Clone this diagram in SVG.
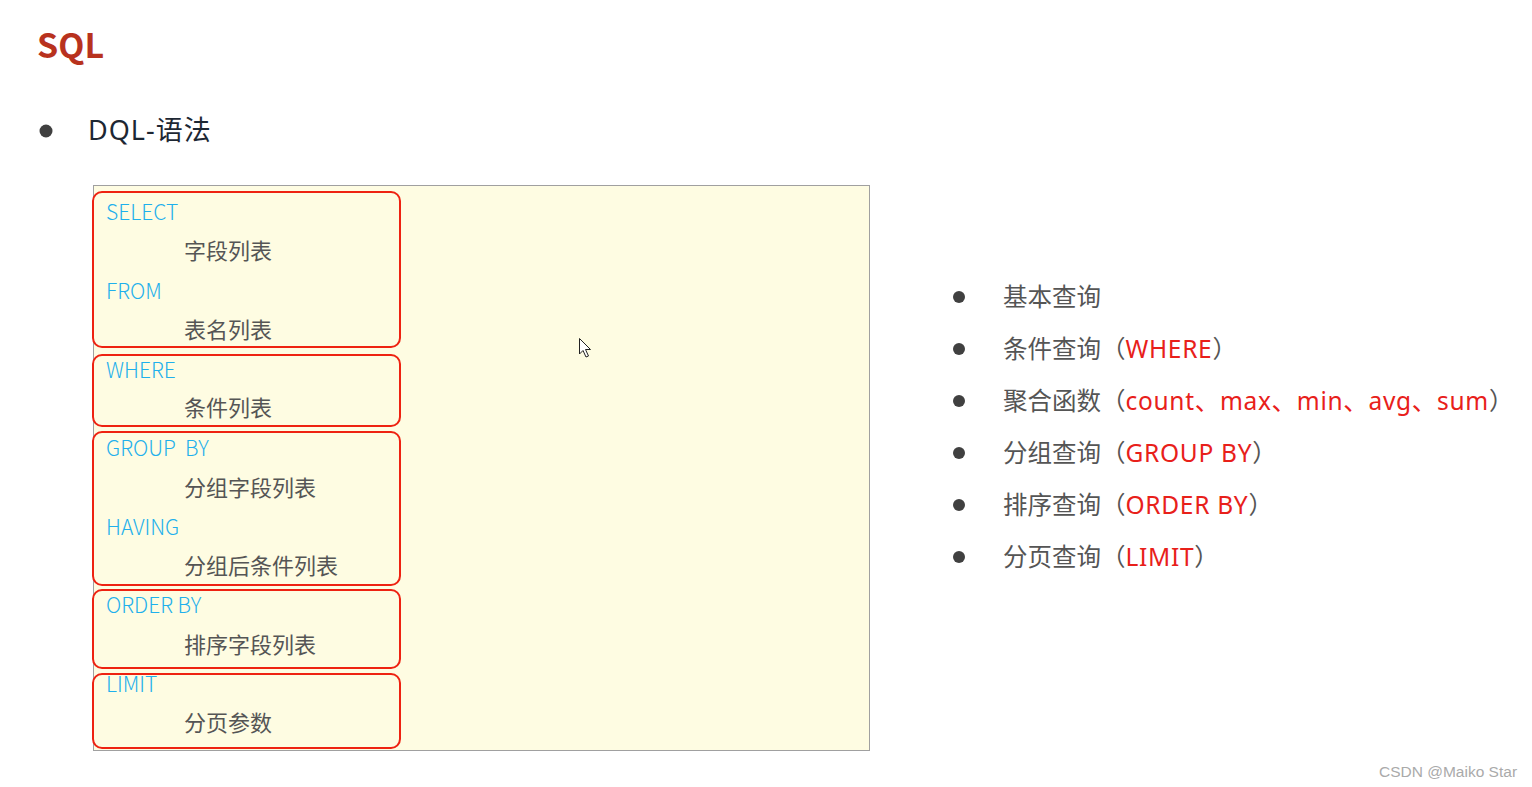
<svg xmlns="http://www.w3.org/2000/svg" width="1532" height="787" viewBox="0 0 1532 787">
<style>
.cjk{font-family:"Noto Sans CJK SC","Noto Sans",sans-serif}
.mix{font-family:"Noto Sans","Noto Sans CJK SC",sans-serif}
.kw{font-family:"Noto Sans CJK SC","Noto Sans",sans-serif;font-size:21px;fill:#1fb0ec;font-weight:300}
.zh{font-family:"Noto Sans CJK SC",sans-serif;font-size:22px;fill:#555555}
.clause{fill:none;stroke:#ee2211;stroke-width:2}
.li{font-family:"Noto Sans","Noto Sans CJK SC",sans-serif;font-size:24.5px;fill:#555555}
.red{fill:#e8201a;letter-spacing:0.7px}
.dot{fill:#404040}
</style>
<rect width="1532" height="787" fill="#ffffff"/>
<g id="title">
<text x="37" y="58" class="cjk" font-size="34" font-weight="bold" fill="#b8321e">SQL</text>
</g>
<g id="heading">
<circle cx="46" cy="131" r="6.5" class="dot"/>
<text x="88" y="140" class="mix" font-size="27" letter-spacing="1" fill="#1d2733">DQL-语法</text>
</g>
<g id="syntax-panel">
<rect x="93.5" y="185.5" width="776" height="565" fill="#fefce2" stroke="#a0a0a0" stroke-width="1"/>
</g>
<g id="clause-select">
<rect x="93" y="192" width="307" height="155" rx="9" class="clause"/>
<text x="106" y="220" class="kw">SELECT</text>
<text x="184" y="259" class="zh">字段列表</text>
<text x="106" y="299" class="kw">FROM</text>
<text x="184" y="338" class="zh">表名列表</text>
</g>
<g id="clause-where">
<rect x="93" y="355" width="307" height="71" rx="9" class="clause"/>
<text x="106" y="378" class="kw">WHERE</text>
<text x="184" y="416" class="zh">条件列表</text>
</g>
<g id="clause-group">
<rect x="93" y="432" width="307" height="153" rx="9" class="clause"/>
<text x="106" y="456" class="kw" xml:space="preserve">GROUP  BY</text>
<text x="184" y="496" class="zh">分组字段列表</text>
<text x="106" y="535" class="kw">HAVING</text>
<text x="184" y="574" class="zh">分组后条件列表</text>
</g>
<g id="clause-order">
<rect x="93" y="590" width="307" height="78" rx="9" class="clause"/>
<text x="106" y="613" class="kw">ORDER BY</text>
<text x="184" y="653" class="zh">排序字段列表</text>
</g>
<g id="clause-limit">
<rect x="93" y="674" width="307" height="74" rx="9" class="clause"/>
<text x="106" y="692" class="kw">LIMIT</text>
<text x="184" y="731" class="zh">分页参数</text>
</g>
<g id="cursor">
<path d="M579.5 338.5 L579.5 354 L583 350.5 L586 357 L588.5 356 L585.5 349.5 L590.5 349.5 Z" fill="#ffffff" stroke="#222222" stroke-width="1"/>
</g>
<g id="query-list">
<circle cx="959" cy="297" r="6" class="dot"/>
<text x="1003" y="306" class="li">基本查询</text>
<circle cx="959" cy="349" r="6" class="dot"/>
<text x="1003" y="358" class="li">条件查询（<tspan class="red">WHERE</tspan>）</text>
<circle cx="959" cy="401" r="6" class="dot"/>
<text x="1003" y="410" class="li">聚合函数（<tspan class="red">count、max、min、avg、sum</tspan>）</text>
<circle cx="959" cy="453" r="6" class="dot"/>
<text x="1003" y="462" class="li">分组查询（<tspan class="red">GROUP BY</tspan>）</text>
<circle cx="959" cy="505" r="6" class="dot"/>
<text x="1003" y="514" class="li">排序查询（<tspan class="red">ORDER BY</tspan>）</text>
<circle cx="959" cy="557" r="6" class="dot"/>
<text x="1003" y="566" class="li">分页查询（<tspan class="red">LIMIT</tspan>）</text>
</g>
<g id="watermark">
<text x="1379" y="777" font-family="Liberation Sans, Arial, sans-serif" font-size="15.5" fill="#aaaaaa">CSDN @Maiko Star</text>
</g>
</svg>
